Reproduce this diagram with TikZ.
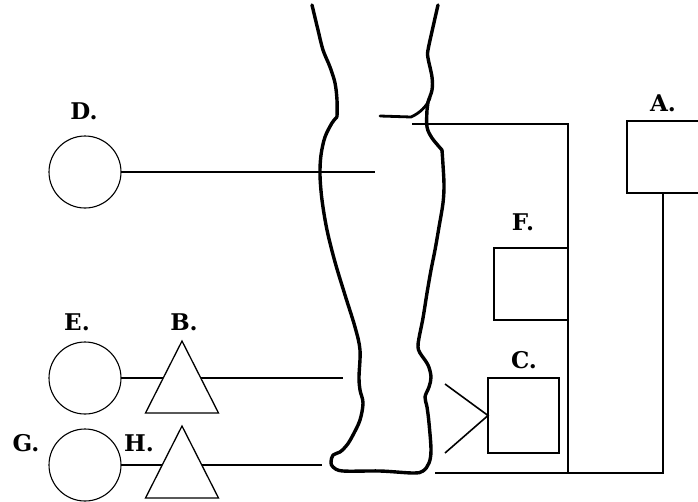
\documentclass[tikz,border=0pt]{standalone}
\usepackage{fontspec}
\setmainfont{DejaVu Serif}
\usetikzlibrary{shapes.geometric,backgrounds}
\begin{document}
\begin{tikzpicture}[x=1pt,y=-1pt,
  lbl/.style={font=\bfseries\fontsize{23}{25}\selectfont, inner sep=0pt},
  circ/.style={draw, circle, line width=1.1pt, minimum size=72pt, inner sep=0pt, outer sep=0pt},
  tri/.style={draw, fill=white, isosceles triangle, shape border rotate=90, isosceles triangle stretches,
    minimum width=73pt, minimum height=72pt, inner sep=0pt, outer sep=0pt, line width=1.3pt, anchor=apex},
  thinbox/.style={draw, rectangle, line width=1.1pt, inner sep=0pt, outer sep=0pt},
  wire/.style={line width=1.8pt},
  leg/.style={line width=3.4pt, line cap=round, line join=round}]
\useasboundingbox (0,0) rectangle (698,501);

% leg outline
\draw[leg] plot[smooth, tension=0.55] coordinates {
 (312,5) (318,30) (323,50) (330,67) (335,83) (337,100) (337,117)};
\draw[leg] plot[smooth, tension=0.55] coordinates {
 (337,117) (332,123) (325,137) (321,155) (320,175) (322,200) (327,230) (335,262)
 (345,295) (355,327) (360,350) (359,377) (360,390) (363,403)
 (360,420) (353,435) (347,445) (340,452) (333,455) (331,462) (333,467) (343,471)
 (380,471) (413,473) (423,471) (429,463) (431,450) (429,423) (427,407) (425,397)
 (429,387) (431,377) (428,365) (420,353) (418,347) (419,338) (423,318) (427,293)
 (431,270) (435,250) (439,227) (443,203) (444,185) (443,165) (442,150)};
\draw[leg] plot[smooth, tension=0.55] coordinates {
 (442,150) (432,138) (427,127) (427,110) (428,102) (432,90) (432,77) (428,58)
 (428,50) (433,27) (438,5)};
% knee line
\draw[line width=2.8pt, line cap=round, line join=round] (380,116) -- (411,117)
  .. controls (420,113) and (427,106) .. (430,98);

% frame
\coordinate (ftl) at (412,124);
\coordinate (ftr) at (568,124);
\coordinate (fbr) at (568,473);
\coordinate (fbl) at (435,473);
\coordinate (abr) at (663,473);

\node[draw, rectangle, line width=2pt, minimum width=74pt, minimum height=72pt, inner sep=0pt, outer sep=0pt,
  anchor=north west] (A) at (627,121) {};
\node[lbl] (Alab) at (663,103) {A.};
\draw[wire] (ftl) -- (ftr) -- (fbr) -- (fbl);
\draw[wire] (A.south -| abr) -- (abr) -- (fbr);

\node[thinbox, minimum width=74pt, minimum height=72pt, anchor=north west] (F) at (494,248) {};
\node[lbl] (Flab) at (523,222) {F.};
\node[thinbox, minimum width=71pt, minimum height=75pt, anchor=north west] (C) at (488,378) {};
\node[lbl] (Clab) at (524,360) {C.};

% chevron
\coordinate (cvt) at (445,384);
\coordinate (cvb) at (445,453);
\draw[line width=1.6pt] (cvt) -- (C.west) -- (cvb);

% D
\node[circ] (D) at (85,172) {};
\node[lbl] (Dlab) at (84,111) {D.};
\coordinate (Dend) at (375,172);
\draw[wire, line width=1.6pt] (D.east) -- (Dend);

% E / B
\node[circ] (E) at (85,378) {};
\node[lbl] (Elab) at (77,322) {E.};
\coordinate (Eend) at (343,378);
\node[tri] (B) at (182,341) {};
\node[lbl] (Blab) at (184,322) {B.};
\begin{pgfonlayer}{background}
\draw[wire, line width=1.6pt] (E.east) -- (Eend);
\end{pgfonlayer}

% G / H
\node[circ] (G) at (85,465) {};
\node[lbl] (Glab) at (26,443) {G.};
\coordinate (Gend) at (322,465);
\node[tri] (H) at (182,426) {};
\node[lbl] (Hlab) at (139,443) {H.};
\begin{pgfonlayer}{background}
\draw[wire, line width=1.6pt] (G.east) -- (Gend);
\end{pgfonlayer}
\end{tikzpicture}
\end{document}
